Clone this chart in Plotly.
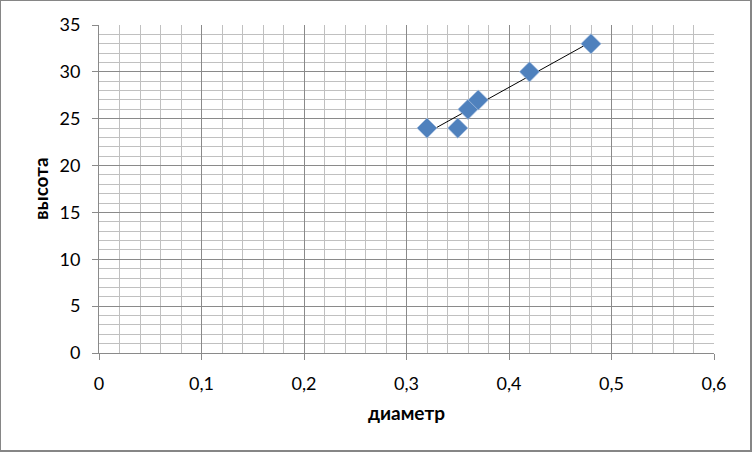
import numpy as np
import plotly.graph_objects as go

diameter = [0.32, 0.35, 0.36, 0.37, 0.42, 0.48]
height = [24, 24, 26, 27, 30, 33]

x_title = "диаметр"
y_title = "высота"

W, H = 752, 452
ML, MR, MT, MB = 99, 38, 25, 99
PW, PH = W - ML - MR, H - MT - MB


def px(xp):
    return (xp - ML) / PW


def py(yp):
    return (MT + PH - yp) / PH


slope, intercept = np.polyfit(diameter, height, 1)
tx = [min(diameter), max(diameter)]
ty = [slope * v + intercept for v in tx]

fig = go.Figure()
fig.add_trace(go.Scatter(x=tx, y=ty, mode="lines",
                         line=dict(color="black", width=1), showlegend=False,
                         hoverinfo="skip"))
fig.add_trace(go.Scatter(x=diameter, y=height, mode="markers",
                         marker=dict(symbol="diamond", size=15.5, color="#4F81BD",
                                     line=dict(color="#a9c0e0", width=0.7)),
                         showlegend=False))

FAM = "Lato, 'Open Sans', sans-serif"
font_tick = dict(family=FAM, size=18, color="#000000")
major = "#8a8a8a"
minor = "#c0c0c0"
border = "#868686"

fig.update_layout(
    width=W, height=H,
    margin=dict(l=ML, r=MR, t=MT, b=MB, autoexpand=False),
    paper_bgcolor="white", plot_bgcolor="white",
    separators=", ",
    xaxis=dict(range=[0, 0.6], dtick=0.1, tick0=0, showgrid=True, gridcolor=major,
               gridwidth=1, zeroline=False, showline=True, linecolor=major, linewidth=1,
               ticks="outside", ticklen=6, tickcolor=major, tickfont=font_tick,
               ticklabelstandoff=8,
               minor=dict(dtick=0.02, showgrid=True, gridcolor=minor, gridwidth=1, ticks=""),
               fixedrange=True),
    yaxis=dict(range=[0, 35], dtick=5, tick0=0, showgrid=True, gridcolor=major,
               gridwidth=1, zeroline=False, showline=True, linecolor=major, linewidth=1,
               ticks="outside", ticklen=6, tickcolor=major, tickfont=font_tick,
               ticklabelstandoff=8,
               minor=dict(dtick=1, showgrid=True, gridcolor=minor, gridwidth=1, ticks=""),
               fixedrange=True),
    annotations=[
        dict(text=f"<b>{x_title}</b>", xref="paper", yref="paper",
             x=px(406), y=py(412),
             xanchor="center", yanchor="middle", showarrow=False,
             font=dict(family=FAM, size=19, color="#000")),
        dict(text=f"<b>{y_title}</b>", xref="paper", yref="paper",
             x=px(40), y=py(189), textangle=-90,
             xanchor="center", yanchor="middle", showarrow=False,
             font=dict(family=FAM, size=19, color="#000")),
    ],
    shapes=[
        dict(type="line", xref="paper", yref="paper", x0=px(0.5), x1=px(0.5),
             y0=py(0), y1=py(452), line=dict(color=border, width=1)),
        dict(type="line", xref="paper", yref="paper", x0=px(0), x1=px(752),
             y0=py(0.5), y1=py(0.5), line=dict(color=border, width=1)),
        dict(type="line", xref="paper", yref="paper", x0=px(751), x1=px(751),
             y0=py(0), y1=py(452), line=dict(color=border, width=2)),
        dict(type="line", xref="paper", yref="paper", x0=px(0), x1=px(752),
             y0=py(451), y1=py(451), line=dict(color=border, width=2)),
    ],
)

fig.write_html("out.html", config={"displayModeBar": False},
               post_script="document.body.style.margin='0';document.body.style.padding='0';")
